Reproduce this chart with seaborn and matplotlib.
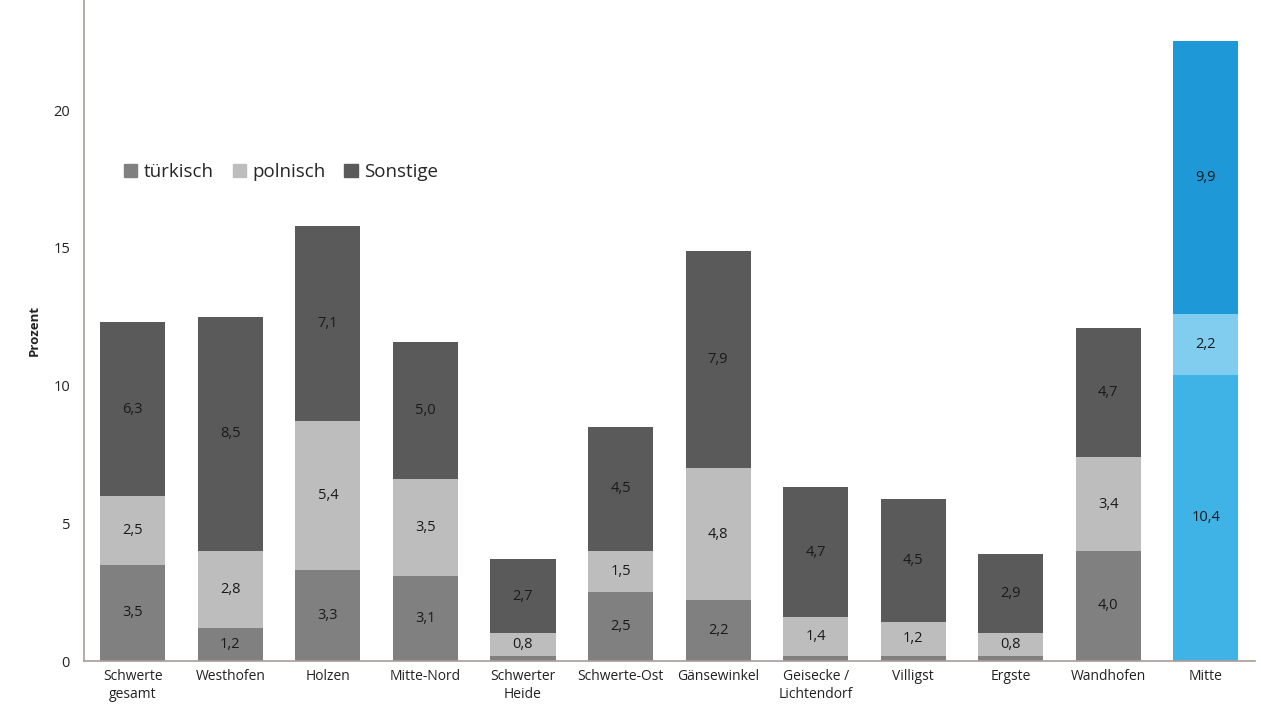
import matplotlib
matplotlib.use("Agg")
import matplotlib.pyplot as plt
import seaborn as sns
import numpy as np
import pandas as pd
from matplotlib.patches import Patch

categories = ["Schwerte\ngesamt", "Westhofen", "Holzen", "Mitte-Nord", "Schwerter\nHeide",
              "Schwerte-Ost", "Gänsewinkel", "Geisecke /\nLichtendorf", "Villigst", "Ergste",
              "Wandhofen", "Mitte"]
tuerkisch = [3.5, 1.2, 3.3, 3.1, 0.2, 2.5, 2.2, 0.2, 0.2, 0.2, 4.0, 10.4]
polnisch = [2.5, 2.8, 5.4, 3.5, 0.8, 1.5, 4.8, 1.4, 1.2, 0.8, 3.4, 2.2]
sonstige = [6.3, 8.5, 7.1, 5.0, 2.7, 4.5, 7.9, 4.7, 4.5, 2.9, 4.7, 9.9]
show_tuerk_label = [True, True, True, True, False, True, True, False, False, False, True, True]
series_names = ["türkisch", "polnisch", "Sonstige"]

gray_cols = ["#808080", "#bdbdbd", "#5a5a5a"]
blue_cols = ["#3fb2e6", "#80cdf0", "#1e98d6"]

sns.set_theme(style="white")
plt.rcParams['font.family'] = ['Open Sans', 'DejaVu Sans']

fig = plt.figure(figsize=(12.61, 7.16), dpi=100)
ax = fig.add_axes([0.0666, 0.0768, 0.9284, 0.9232])

t = np.array(tuerkisch)
p = np.array(polnisch)
s = np.array(sonstige)
layers = [t + p + s, t + p, t]
layer_idx = [2, 1, 0]

for cum, li in zip(layers, layer_idx):
    pal = [gray_cols[li]] * (len(categories) - 1) + [blue_cols[li]]
    df = pd.DataFrame({"cat": categories, "val": cum})
    sns.barplot(data=df, x="cat", y="val", hue="cat", palette=pal, legend=False,
                width=0.667, saturation=1, ax=ax, linewidth=0)

def fmt(v):
    return f"{v:.1f}".replace(".", ",")

for i in range(len(categories)):
    bottoms = [0, t[i], t[i] + p[i]]
    vals = [t[i], p[i], s[i]]
    for k in range(3):
        if k == 0 and not show_tuerk_label[i]:
            continue
        ax.text(i, bottoms[k] + vals[k] / 2, fmt(vals[k]), ha="center", va="center",
                fontsize=10.5, color="#1a1a1a")

ax.set_xlim(-0.5, 11.5)
ax.set_ylim(0, 24)
ax.set_yticks([0, 5, 10, 15, 20])
ax.set_xlabel("")
ax.set_ylabel("Prozent", fontsize=9.5, fontweight="bold", color="#222222", labelpad=9)
ax.tick_params(axis="both", length=0, labelsize=10, colors="#222222")
ax.tick_params(axis="y", pad=10, labelsize=10.5)
ax.tick_params(axis="x", pad=6)
for sp in ["top", "right"]:
    ax.spines[sp].set_visible(False)
for sp in ["left", "bottom"]:
    ax.spines[sp].set_color("#a89d98")
    ax.spines[sp].set_linewidth(1.2)

handles = [Patch(color=c) for c in gray_cols]
ax.legend(handles, series_names, loc="center left", bbox_to_anchor=(0.02, 0.74),
          ncol=3, frameon=False, fontsize=13.5, handlelength=0.7, handleheight=0.7,
          handletextpad=0.35, columnspacing=1.0)

fig.savefig("out.png", dpi=100)
